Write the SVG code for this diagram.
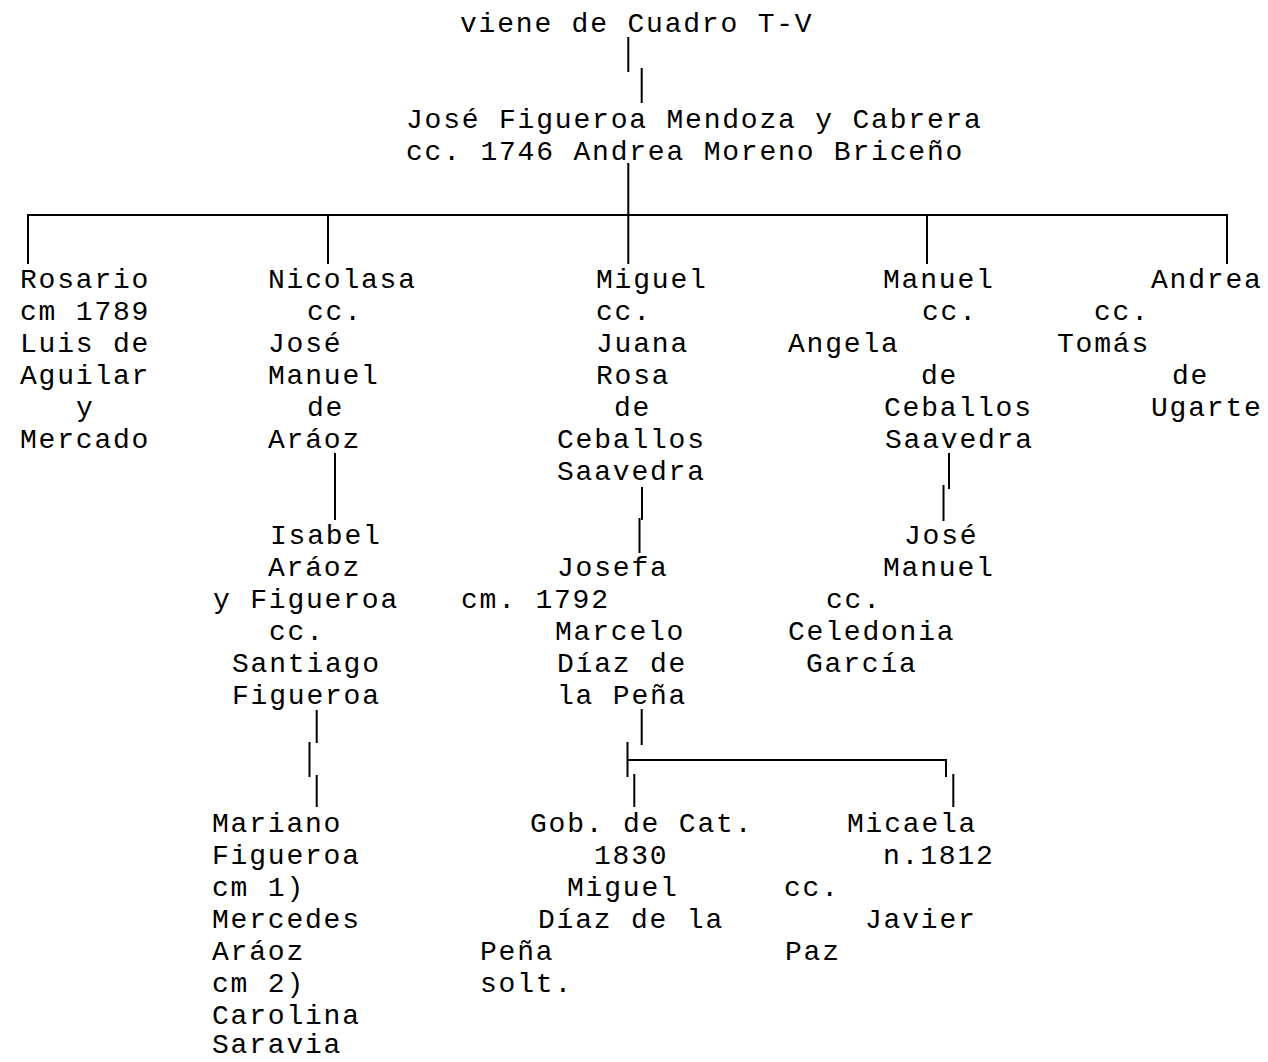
<svg xmlns="http://www.w3.org/2000/svg" width="1268" height="1062" viewBox="0 0 1268 1062">
<style>
text{font-family:"Courier New","Liberation Mono",monospace;font-size:28px;letter-spacing:1.8px;fill:#000;}
.c line{stroke:#000;stroke-width:2;stroke-linecap:butt;}
</style>
<rect width="1268" height="1062" fill="#fff"/>
<g class="c" id="connectors">
<line x1="628.3" y1="37" x2="628.3" y2="72"/>
<line x1="641.7" y1="68" x2="641.7" y2="103"/>
<line x1="628.3" y1="163" x2="628.3" y2="264"/>
<line x1="27" y1="215" x2="1228" y2="215"/>
<line x1="28" y1="214" x2="28" y2="264"/>
<line x1="328" y1="215" x2="328" y2="264"/>
<line x1="927" y1="215" x2="927" y2="264"/>
<line x1="1227" y1="214" x2="1227" y2="264"/>
<line x1="335" y1="453" x2="335" y2="520"/>
<line x1="642" y1="487" x2="642" y2="520"/>
<line x1="639.5" y1="518" x2="639.5" y2="553"/>
<line x1="949" y1="453" x2="949" y2="489"/>
<line x1="943.5" y1="485" x2="943.5" y2="521"/>
<line x1="316.7" y1="710" x2="316.7" y2="743"/>
<line x1="309.5" y1="742" x2="309.5" y2="777"/>
<line x1="316.7" y1="775" x2="316.7" y2="807"/>
<line x1="641.7" y1="709" x2="641.7" y2="745"/>
<line x1="627.5" y1="742" x2="627.5" y2="777"/>
<line x1="627.5" y1="760" x2="947" y2="760"/>
<line x1="946" y1="759" x2="946" y2="777"/>
<line x1="953.3" y1="774" x2="953.3" y2="807"/>
<line x1="634.3" y1="774" x2="634.3" y2="807"/>
</g>
<g id="origen"><text x="460" y="32">viene de Cuadro T-V</text></g>
<g id="jose-figueroa">
<text x="406" y="128">José Figueroa Mendoza y Cabrera</text>
<text x="406" y="160">cc. 1746 Andrea Moreno Briceño</text>
</g>
<g id="rosario">
<text x="20" y="288">Rosario</text>
<text x="20" y="320">cm 1789</text>
<text x="20" y="352">Luis de</text>
<text x="20" y="384">Aguilar</text>
<text x="76" y="416">y</text>
<text x="20" y="448">Mercado</text>
</g>
<g id="nicolasa">
<text x="268" y="288">Nicolasa</text>
<text x="307" y="320">cc.</text>
<text x="268" y="352">José</text>
<text x="268" y="384">Manuel</text>
<text x="307" y="416">de</text>
<text x="268" y="448">Aráoz</text>
</g>
<g id="miguel">
<text x="596" y="288">Miguel</text>
<text x="596" y="320">cc.</text>
<text x="596" y="352">Juana</text>
<text x="596" y="384">Rosa</text>
<text x="614" y="416">de</text>
<text x="557" y="448">Ceballos</text>
<text x="557" y="480">Saavedra</text>
</g>
<g id="manuel">
<text x="883" y="288">Manuel</text>
<text x="922" y="320">cc.</text>
<text x="788" y="352">Angela</text>
<text x="921" y="384">de</text>
<text x="884" y="416">Ceballos</text>
<text x="885" y="448">Saavedra</text>
</g>
<g id="andrea">
<text x="1151" y="288">Andrea</text>
<text x="1094" y="320">cc.</text>
<text x="1057" y="352">Tomás</text>
<text x="1172" y="384">de</text>
<text x="1151" y="416">Ugarte</text>
</g>
<g id="isabel">
<text x="270" y="544">Isabel</text>
<text x="268" y="576">Aráoz</text>
<text x="213" y="608">y Figueroa</text>
<text x="269" y="640">cc.</text>
<text x="232" y="672">Santiago</text>
<text x="232" y="704">Figueroa</text>
</g>
<g id="josefa">
<text x="557" y="576">Josefa</text>
<text x="461" y="608">cm. 1792</text>
<text x="555" y="640">Marcelo</text>
<text x="557" y="672">Díaz de</text>
<text x="557" y="704">la Peña</text>
</g>
<g id="jose-manuel">
<text x="904" y="544">José</text>
<text x="883" y="576">Manuel</text>
<text x="826" y="608">cc.</text>
<text x="788" y="640">Celedonia</text>
<text x="806" y="672">García</text>
</g>
<g id="mariano">
<text x="212" y="832">Mariano</text>
<text x="212" y="864">Figueroa</text>
<text x="212" y="896">cm 1)</text>
<text x="212" y="928">Mercedes</text>
<text x="212" y="960">Aráoz</text>
<text x="212" y="992">cm 2)</text>
<text x="212" y="1024">Carolina</text>
<text x="212" y="1053">Saravia</text>
</g>
<g id="miguel-diaz">
<text x="530" y="832">Gob. de Cat.</text>
<text x="594" y="864">1830</text>
<text x="567" y="896">Miguel</text>
<text x="538" y="928">Díaz de la</text>
<text x="480" y="960">Peña</text>
<text x="480" y="992">solt.</text>
</g>
<g id="micaela">
<text x="847" y="832">Micaela</text>
<text x="883" y="864">n.1812</text>
<text x="784" y="896">cc.</text>
<text x="865" y="928">Javier</text>
<text x="785" y="960">Paz</text>
</g>
</svg>
